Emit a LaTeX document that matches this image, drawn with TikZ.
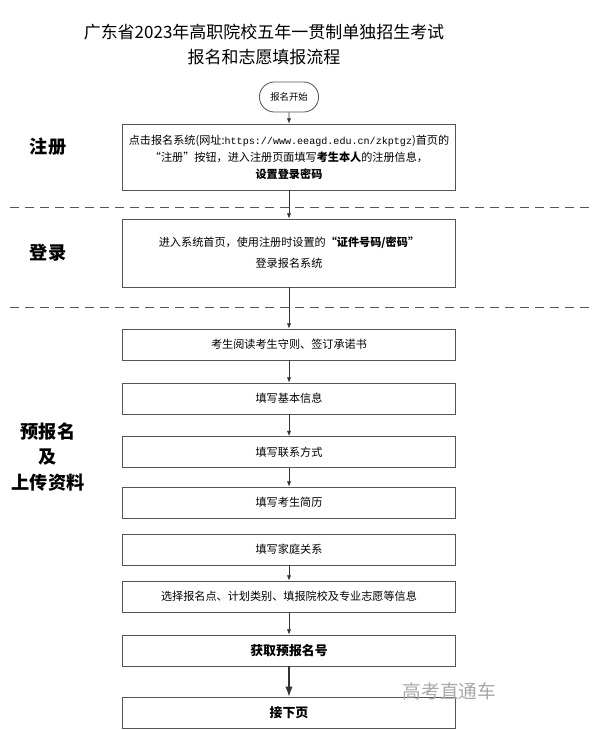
\documentclass[tikz,border=0pt]{standalone}
\usepackage{fontspec}
\setmainfont{Noto Sans CJK SC}
\setmonofont{Liberation Mono}
\usetikzlibrary{arrows.meta,shapes.misc}
\definecolor{regLine}{HTML}{555555}
\definecolor{regMark}{HTML}{A8A8A8}
\tikzset{
    regBoxBase/.style={
        rectangle,
        draw=regLine,
        line width=0.7pt,
        minimum width=10cm,
        minimum height=0.93cm,
        align=center,
        font=\fontsize{9.5}{14.5}\selectfont,
        inner sep=2pt
    },
    regLabel/.style={
        font=\fontsize{15.5}{22}\selectfont\bfseries,
        align=center
    },
    % Arrows and separators
    regArrowBase/.style={-{Latex[length=1.6mm,width=1.3mm]}, line width=0.6pt, draw=black!80},
    regDash/.style={draw=regLine, line width=0.6pt, dash pattern=on 0.27cm off 0.18cm}
}

\begin{document}
\begin{tikzpicture}[
    box/.style={regBoxBase},
    arr/.style={regArrowBase}
]
\useasboundingbox (0,0) rectangle (17.82,-21.9);

% Title
\node[font=\fontsize{14.5}{21.3}\selectfont, align=center] (title) at (7.92,-1.335)
    {广东省2023年高职院校五年一贯制单独招生考试\\报名和志愿填报流程};

% Start
\node[rounded rectangle, draw=regLine, line width=0.7pt, minimum width=2.01cm, minimum height=0.9cm,
    font=\fontsize{8}{10}\selectfont] (start) at (8.67,-2.91) {报名开始};

% Registration
\node[box, minimum height=1.98cm] (reg) at (8.67,-4.71)
    {点击报名系统(网址:{\ttfamily\fontsize{8.6}{10}\selectfont https://www.eeagd.edu.cn/zkptgz})首页的\\
     “注册”按钮，进入注册页面填写\textbf{考生本人}的注册信息，\\
     \textbf{设置登录密码}};
\node[regLabel] (regLbl) at (1.44,-4.41) {注册};

\coordinate (sepA) at (0.3,-6.21);
\coordinate (sepAend) at (17.82,-6.21);
\draw[regDash] (sepA) -- (sepAend);

% Login
\node[box, minimum height=2.04cm, font=\fontsize{9.5}{18}\selectfont] (login) at (8.67,-7.59)
    {进入系统首页，使用注册时设置的\textbf{“证件号码/密码”}\\登录报名系统};
\node[regLabel] (loginLbl) at (1.44,-7.59) {登录};

\coordinate (sepB) at (0.3,-9.21);
\coordinate (sepBend) at (17.82,-9.21);
\draw[regDash] (sepB) -- (sepBend);

% Pre-registration
\node[box] (rules) at (8.67,-10.335) {考生阅读考生守则、签订承诺书};
\node[box] (basic) at (8.67,-11.955) {填写基本信息};
\node[box] (contact) at (8.67,-13.56) {填写联系方式};
\node[box] (resume) at (8.67,-15.075) {填写考生简历};
\node[box] (family) at (8.67,-16.485) {填写家庭关系};
\node[box] (choice) at (8.67,-17.895) {选择报名点、计划类别、填报院校及专业志愿等信息};
\node[box, font=\fontsize{11}{13}\selectfont\bfseries] (number) at (8.67,-19.515) {获取预报名号};
\node[box, font=\fontsize{11}{13}\selectfont\bfseries] (next) at (8.67,-21.375) {接下页};
\node[regLabel, font=\fontsize{15.5}{21.8}\selectfont\bfseries] (preLbl) at (1.44,-13.71) {预报名\\及\\上传资料};

\node[font=\fontsize{16}{18}\selectfont, text=regMark] (mark) at (13.485,-20.73) {高考直通车};

% Connectors
\draw[arr] (start) -- (reg);
\draw[arr] (reg) -- (login);
\draw[arr] (login) -- (rules);
\draw[arr] (rules) -- (basic);
\draw[arr] (basic) -- (contact);
\draw[arr] (contact) -- (resume);
\draw[arr] (family) -- (choice);
\draw[arr] (choice) -- (number);
\draw[arr, -{Latex[length=3mm,width=2.2mm]}, line width=0.9pt] (number) -- (next);
\end{tikzpicture}
\end{document}
